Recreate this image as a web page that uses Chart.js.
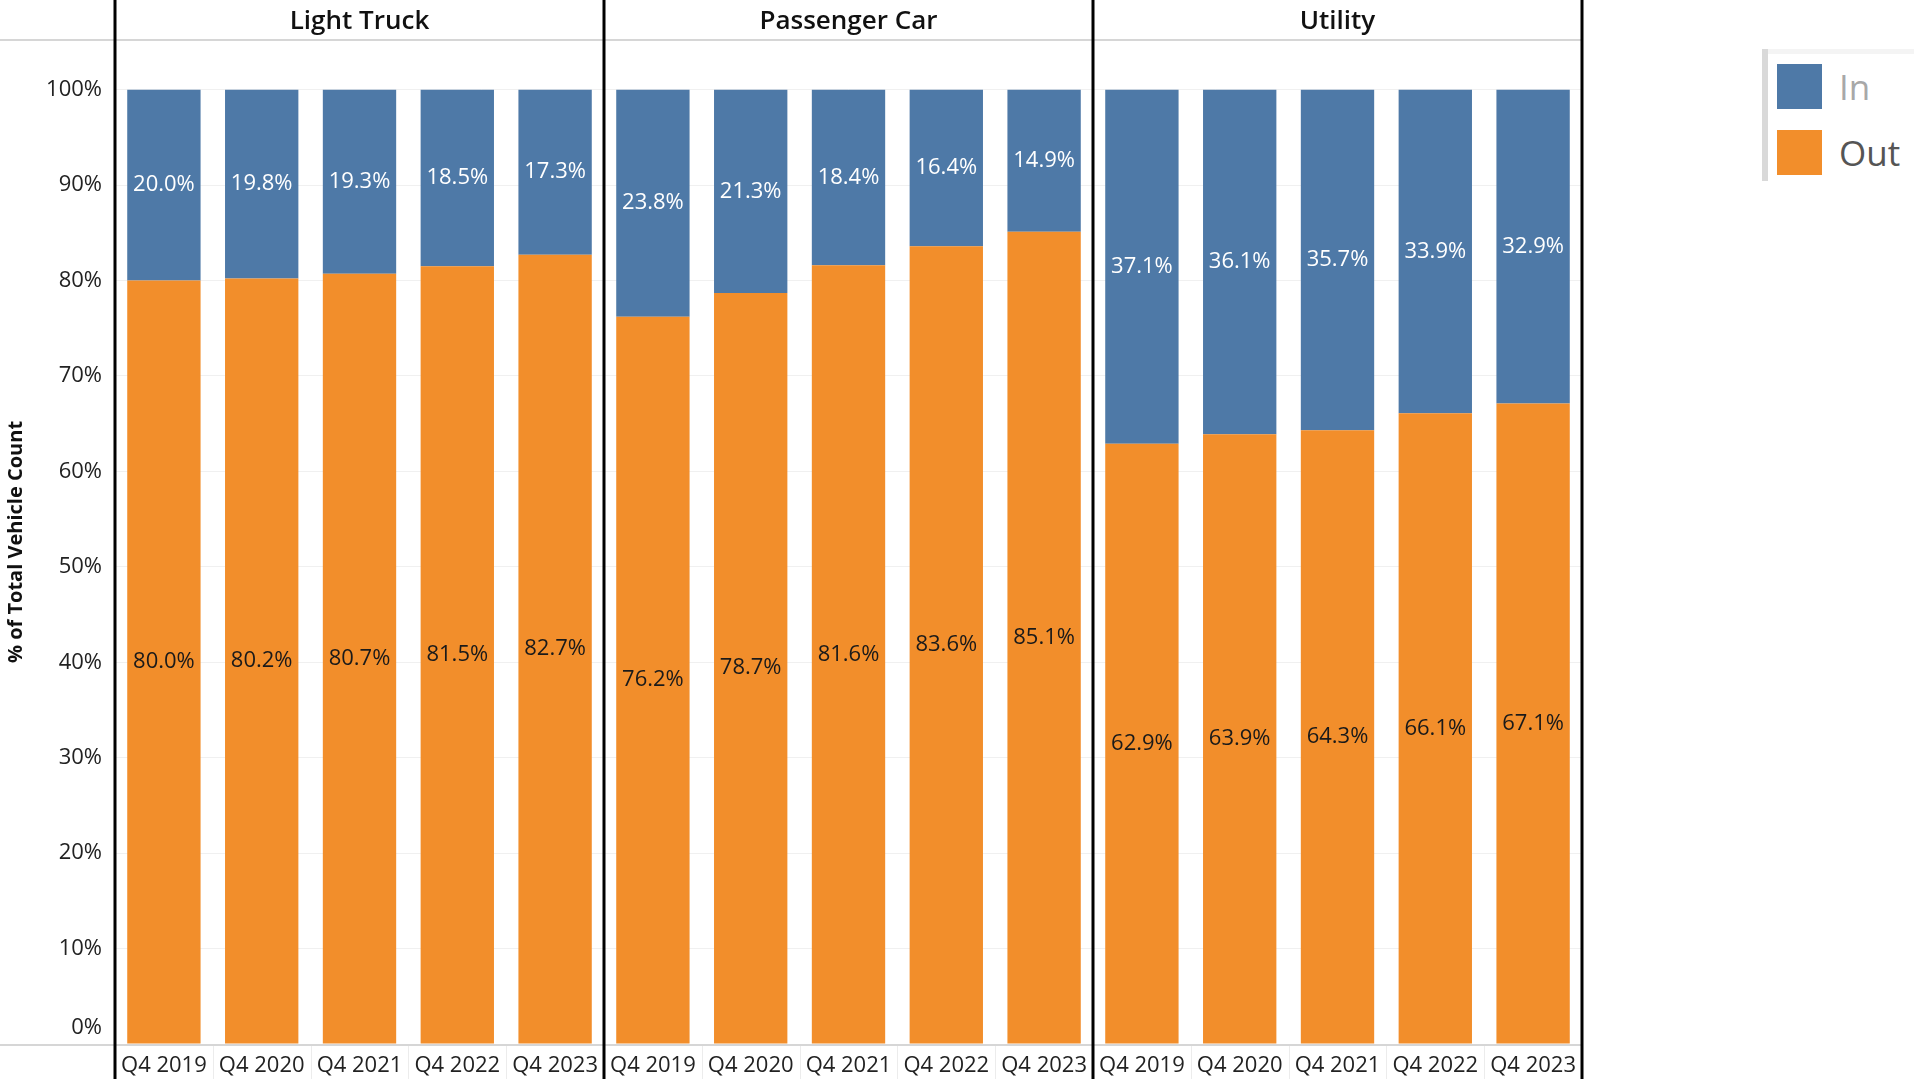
<!DOCTYPE html>
<html>
<head>
<meta charset="utf-8">
<script src="https://cdn.jsdelivr.net/npm/chart.js@4.4.1/dist/chart.umd.min.js"></script>
<style>
  html, body { margin: 0; padding: 0; background: #fff; width: 1914px; height: 1079px; overflow: hidden; }
  #wrap { position: absolute; left: 0; top: 0; width: 1590px; height: 1079px; }
  #legend { position: absolute; left: 1762px; top: 49px; width: 152px; height: 132px;
            border-left: 6px solid #d9d9d9; background: #fff; font-family: "Open Sans", sans-serif; }
  #legend .top { position: absolute; left: 0; top: 0; right: 0; height: 5px; background: #f4f4f4; }
  .item { position: absolute; left: 9px; height: 45px; display: flex; align-items: center; }
  .sw { width: 45px; height: 45px; margin-right: 17px; }
  .lbl { font-size: 35px; line-height: 45px; }
</style>
</head>
<body>
<div id="wrap"><canvas id="c" width="1590" height="1079"></canvas></div>
<div id="legend">
  <div class="top"></div>
  <div class="item" style="top:15px"><div class="sw" style="background:#4E79A7"></div><span class="lbl" style="color:#a8a8a8">In</span></div>
  <div class="item" style="top:81px"><div class="sw" style="background:#F28E2B"></div><span class="lbl" style="color:#555">Out</span></div>
</div>
<script>
const quarters = ['Q4 2019', 'Q4 2020', 'Q4 2021', 'Q4 2022', 'Q4 2023'];
const panels = ['Light Truck', 'Passenger Car', 'Utility'];
const outLightTruck = [80.0, 80.2, 80.7, 81.5, 82.7];
const inLightTruck = [20.0, 19.8, 19.3, 18.5, 17.3];
const outPassengerCar = [76.2, 78.7, 81.6, 83.6, 85.1];
const inPassengerCar = [23.8, 21.3, 18.4, 16.4, 14.9];
const outUtility = [62.9, 63.9, 64.3, 66.1, 67.1];
const inUtility = [37.1, 36.1, 35.7, 33.9, 32.9];
const yTicks = [0, 10, 20, 30, 40, 50, 60, 70, 80, 90, 100];

const labels = panels.flatMap(() => quarters);
const outData = [...outLightTruck, ...outPassengerCar, ...outUtility];
const inData = [...inLightTruck, ...inPassengerCar, ...inUtility];

const FONT = '"Open Sans", "Noto Sans", sans-serif';
const TICK_PAD = 13;

const decor = {
  id: 'decor',
  afterDraw(chart) {
    const ctx = chart.ctx;
    const a = chart.chartArea;
    const n = labels.length;
    const per = quarters.length;
    const step = (a.right - a.left) / n;
    ctx.save();
    // faint boundaries in label area
    ctx.strokeStyle = '#ececec';
    ctx.lineWidth = 1;
    for (let i = 1; i < n; i++) {
      const x = Math.round(a.left + i * step) + 0.5;
      ctx.beginPath(); ctx.moveTo(x, a.bottom); ctx.lineTo(x, chart.height); ctx.stroke();
    }
    // horizontal gray rules
    ctx.strokeStyle = '#d6d6d6';
    ctx.lineWidth = 2;
    ctx.beginPath(); ctx.moveTo(0, a.top); ctx.lineTo(a.right, a.top); ctx.stroke();
    ctx.beginPath(); ctx.moveTo(0, a.bottom + 1); ctx.lineTo(a.right, a.bottom + 1); ctx.stroke();
    // panel separators
    ctx.strokeStyle = '#000';
    ctx.lineWidth = 3;
    for (let p = 0; p <= panels.length; p++) {
      const x = a.left + p * per * step;
      ctx.beginPath(); ctx.moveTo(x, 0); ctx.lineTo(x, chart.height); ctx.stroke();
    }
    // bottom tick label (lifted above baseline like the reference)
    ctx.fillStyle = '#222';
    ctx.font = '22px ' + FONT;
    ctx.textAlign = 'right';
    ctx.textBaseline = 'middle';
    ctx.fillText(yTicks[0] + '%', a.left - TICK_PAD, a.bottom - 16);
    // panel headers
    ctx.fillStyle = '#111';
    ctx.font = '600 26px ' + FONT;
    ctx.textAlign = 'center';
    panels.forEach((name, p) => {
      const cx = a.left + (p * per + per / 2) * step;
      ctx.fillText(name, cx, 22);
    });
    // value labels
    ctx.font = '22px ' + FONT;
    chart.data.datasets.forEach((ds, di) => {
      const meta = chart.getDatasetMeta(di);
      meta.data.forEach((bar, i) => {
        const v = ds.data[i];
        const yc = (bar.y + bar.base) / 2;
        ctx.fillStyle = di === 0 ? '#1a1a1a' : '#ffffff';
        ctx.fillText(v.toFixed(1) + '%', bar.x, yc);
      });
    });
    ctx.restore();
  }
};

new Chart(document.getElementById('c'), {
  type: 'bar',
  data: {
    labels: labels,
    datasets: [
      { label: 'Out', data: outData, backgroundColor: '#F28E2B', barPercentage: 0.75, categoryPercentage: 1.0 },
      { label: 'In', data: inData, backgroundColor: '#4E79A7', barPercentage: 0.75, categoryPercentage: 1.0 }
    ]
  },
  options: {
    responsive: false,
    animation: false,
    devicePixelRatio: 1,
    layout: { padding: { top: 40, right: 8, left: 0, bottom: 0 } },
    plugins: { legend: { display: false }, tooltip: { enabled: false } },
    scales: {
      x: {
        stacked: true,
        grid: { display: false },
        border: { display: false },
        ticks: { color: '#222', font: { family: FONT, size: 22 }, padding: 1, maxRotation: 0, autoSkip: false },
        afterFit(s) { s.height = 35; }
      },
      y: {
        stacked: true,
        min: 0, max: 105.2,
        afterBuildTicks(s) { s.ticks = yTicks.map(v => ({ value: v })); },
        grid: { color: '#f0f0f0', lineWidth: 1, drawTicks: false },
        border: { display: false },
        ticks: { color: '#222', font: { family: FONT, size: 22 }, padding: TICK_PAD, callback: v => (v === yTicks[0] ? '' : v + '%') },
        title: { display: true, text: '% of Total Vehicle Count', color: '#111', font: { family: FONT, size: 20, weight: 'bold' }, padding: { top: 4, bottom: 0 } },
        afterFit(s) { s.width = 115; }
      }
    }
  },
  plugins: [decor]
});
</script>
</body>
</html>
